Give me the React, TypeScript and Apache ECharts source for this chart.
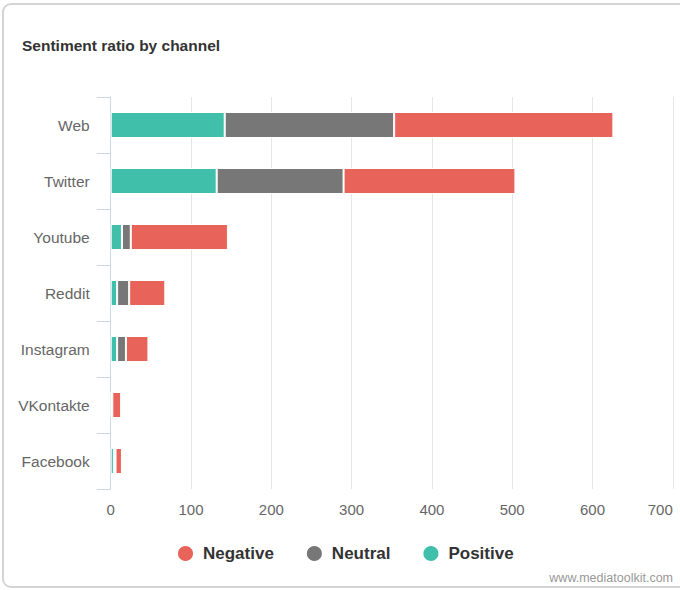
import React, { useEffect, useRef } from "react";
import * as echarts from "echarts";

const categories = ["Web", "Twitter", "Youtube", "Reddit", "Instagram", "VKontakte", "Facebook"];
const positive = [142, 132, 14, 8, 8, 1, 4];
const neutral = [211, 158, 11, 15, 11, 1, 2];
const negative = [273, 214, 121, 45, 28, 11, 8];
const xTicks = [0, 100, 200, 300, 400, 500, 600, 700];

const RED = "#e8645a";
const GRAY = "#777777";
const TEAL = "#40bfaa";

export default function App() {
  const ref = useRef<HTMLDivElement>(null);
  useEffect(() => {
    if (!ref.current) return;
    const chart = echarts.init(ref.current, undefined, { renderer: "svg" });
    const font = "'Liberation Sans', Arial, Helvetica, sans-serif";
    const mkSeries = (name: string, data: number[], color: string) => ({
      name,
      type: "bar",
      stack: "total",
      data,
      barWidth: 26,
      itemStyle: { color, borderColor: "#ffffff", borderWidth: 1 },
      emphasis: { disabled: true },
    });
    chart.setOption({
      animation: false,
      textStyle: { fontFamily: font },
      graphic: [
        {
          type: "rect",
          shape: { x: 3, y: 4, width: 720, height: 583, r: 8 },
          style: { fill: "none", stroke: "#d4d4d4", lineWidth: 2 },
          z: 0,
        },
        {
          type: "text",
          x: 22,
          y: 45,
          style: {
            text: "Sentiment ratio by channel",
            fill: "#333333",
            font: "bold 15.5px 'Liberation Sans', Arial, sans-serif",
            textVerticalAlign: "middle",
          },
        },
        {
          type: "text",
          x: 673,
          y: 578,
          style: {
            text: "www.mediatoolkit.com",
            fill: "#999999",
            font: "12.5px 'Liberation Sans', Arial, sans-serif",
            textAlign: "right",
            textVerticalAlign: "middle",
          },
        },
      ],
      legend: {
        data: ["Negative", "Neutral", "Positive"],
        left: 171,
        top: 539,
        icon: "circle",
        itemWidth: 17,
        itemHeight: 17,
        itemGap: 31,
        textStyle: {
          fontSize: 17,
          fontWeight: "bold",
          color: "#333333",
          fontFamily: font,
          padding: [0, 0, 0, 4],
        },
        selectedMode: false,
      },
      grid: { left: 110.7, right: 7.2, top: 97, bottom: 101, containLabel: false },
      xAxis: {
        type: "value",
        min: 0,
        max: 700,
        interval: 100,
        axisLine: { show: false },
        axisTick: { show: false },
        splitLine: { show: true, lineStyle: { color: "#e6e6e6", width: 1 } },
        axisLabel: {
          color: "#666666",
          fontSize: 15,
          margin: 13,
          fontFamily: font,
          alignMaxLabel: "right",
          formatter: (v: number) => (xTicks.includes(v) ? String(v) : ""),
        },
      },
      yAxis: {
        type: "category",
        data: categories,
        inverse: true,
        axisLine: { show: true, lineStyle: { color: "#ccd6eb", width: 1 } },
        axisTick: { show: true, length: 14, lineStyle: { color: "#ccd6eb" } },
        splitLine: { show: false },
        axisLabel: { color: "#666666", fontSize: 15.5, margin: 21, fontFamily: font },
      },
      series: [
        mkSeries("Positive", positive, TEAL),
        mkSeries("Neutral", neutral, GRAY),
        mkSeries("Negative", negative, RED),
      ],
    });
    return () => chart.dispose();
  }, []);
  return (
    <div
      ref={ref}
      style={{ position: "fixed", left: 0, top: 0, width: 680, height: 590, background: "#ffffff" }}
    />
  );
}
